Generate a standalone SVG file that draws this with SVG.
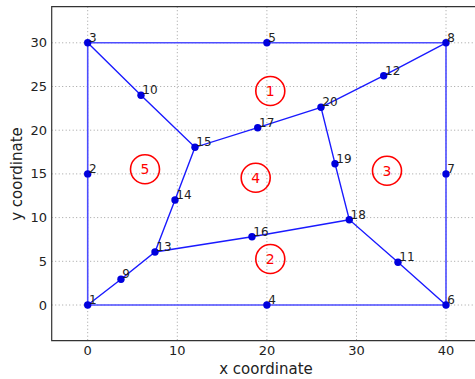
<svg xmlns="http://www.w3.org/2000/svg" width="475" height="379" viewBox="0 0 475 379">
<style>
.grid{stroke:#a0a0a0;stroke-width:1;stroke-dasharray:1,2.5;fill:none}
.frame{stroke:#333;stroke-width:1.2;fill:none}
.tick{font-family:"DejaVu Sans",sans-serif;font-size:13px;fill:#222}
.axl{font-family:"DejaVu Sans",sans-serif;font-size:15px;fill:#222}
.bnd{stroke:#4d4dff;stroke-width:1.6;fill:none}
.edge{stroke:#1a1aff;stroke-width:1.4;fill:none}
.node circle{fill:#0000dd}
.node text{font-family:"DejaVu Sans",sans-serif;font-size:12px;fill:#222}
.reg circle{fill:none;stroke:#ff0000;stroke-width:1.6}
.reg text{font-family:"DejaVu Sans",sans-serif;font-size:14px;fill:#ff0000;text-anchor:middle}
</style>
<rect width="475" height="379" fill="#fff"/>
<g id="grid">
<path class="grid" d="M87.7 6.7V340.7M177.3 6.7V340.7M266.9 6.7V340.7M356.5 6.7V340.7M446 6.7V340.7"/>
<path class="grid" d="M51.7 305H475M51.7 261.3H475M51.7 217.6H475M51.7 173.9H475M51.7 130.2H475M51.7 86.5H475M51.7 42.8H475"/>
</g>
<g id="axes">
<path class="frame" d="M475 6.7H51.7V340.7H475"/>
<g class="tick" text-anchor="middle">
<text x="87.7" y="355">0</text><text x="177.3" y="355">10</text><text x="266.9" y="355">20</text><text x="356.5" y="355">30</text><text x="446" y="355">40</text>
</g>
<g class="tick" text-anchor="end">
<text x="47" y="309.5">0</text><text x="47" y="265.8">5</text><text x="47" y="222.1">10</text><text x="47" y="178.4">15</text><text x="47" y="134.7">20</text><text x="47" y="91">25</text><text x="47" y="47.3">30</text>
</g>
<text class="axl" x="266" y="374" text-anchor="middle">x coordinate</text>
<text class="axl" transform="translate(22,174) rotate(-90)" text-anchor="middle">y coordinate</text>
</g>
<g id="connectors">
<path class="bnd" d="M87.7 305V42.8H446V305H87.7"/>
<path class="edge" d="M87.7 42.8L141 95.3L195 147.3L257.7 127.7L321 107.3L383.7 75.7L446 42.8"/>
<path class="edge" d="M321 107.3L335 163.7L349.3 219.7L398 262.3L446 305"/>
<path class="edge" d="M349.3 219.7L252 236.7L155 252L121 279.3L87.7 305"/>
<path class="edge" d="M155 252L175 200L195 147.3"/>
</g>
<g id="regions">
<g id="r1" class="reg"><circle cx="270.3" cy="91" r="14.5"/><text x="270.3" y="96">1</text></g>
<g id="r2" class="reg"><circle cx="270.3" cy="259" r="14.5"/><text x="270.3" y="264">2</text></g>
<g id="r3" class="reg"><circle cx="387" cy="170.7" r="14.5"/><text x="387" y="175.7">3</text></g>
<g id="r4" class="reg"><circle cx="255.7" cy="177.7" r="14.5"/><text x="255.7" y="182.7">4</text></g>
<g id="r5" class="reg"><circle cx="145" cy="169.3" r="14.5"/><text x="145" y="174.3">5</text></g>
</g>
<g id="n1" class="node"><circle cx="87.7" cy="305" r="3.7"/><text x="89" y="304">1</text></g>
<g id="n2" class="node"><circle cx="87.7" cy="173.9" r="3.7"/><text x="89" y="172.9">2</text></g>
<g id="n3" class="node"><circle cx="87.7" cy="42.8" r="3.7"/><text x="89" y="41.8">3</text></g>
<g id="n4" class="node"><circle cx="266.9" cy="305" r="3.7"/><text x="268.2" y="304">4</text></g>
<g id="n5" class="node"><circle cx="266.9" cy="42.8" r="3.7"/><text x="268.2" y="41.8">5</text></g>
<g id="n6" class="node"><circle cx="446" cy="305" r="3.7"/><text x="447.3" y="304">6</text></g>
<g id="n7" class="node"><circle cx="446" cy="173.9" r="3.7"/><text x="447.3" y="172.9">7</text></g>
<g id="n8" class="node"><circle cx="446" cy="42.8" r="3.7"/><text x="447.3" y="41.8">8</text></g>
<g id="n9" class="node"><circle cx="121" cy="279.3" r="3.7"/><text x="122.3" y="278.3">9</text></g>
<g id="n10" class="node"><circle cx="141" cy="95.3" r="3.7"/><text x="142.3" y="94.3">10</text></g>
<g id="n11" class="node"><circle cx="398" cy="262.3" r="3.7"/><text x="399.3" y="261.3">11</text></g>
<g id="n12" class="node"><circle cx="383.7" cy="75.7" r="3.7"/><text x="385" y="74.7">12</text></g>
<g id="n13" class="node"><circle cx="155" cy="252" r="3.7"/><text x="156.3" y="251">13</text></g>
<g id="n14" class="node"><circle cx="175" cy="200" r="3.7"/><text x="176.3" y="199">14</text></g>
<g id="n15" class="node"><circle cx="195" cy="147.3" r="3.7"/><text x="196.3" y="146.3">15</text></g>
<g id="n16" class="node"><circle cx="252" cy="236.7" r="3.7"/><text x="253.3" y="235.7">16</text></g>
<g id="n17" class="node"><circle cx="257.7" cy="127.7" r="3.7"/><text x="259" y="126.7">17</text></g>
<g id="n18" class="node"><circle cx="349.3" cy="219.7" r="3.7"/><text x="350.6" y="218.7">18</text></g>
<g id="n19" class="node"><circle cx="335" cy="163.7" r="3.7"/><text x="336.3" y="162.7">19</text></g>
<g id="n20" class="node"><circle cx="321" cy="107.3" r="3.7"/><text x="322.3" y="106.3">20</text></g>
</svg>
